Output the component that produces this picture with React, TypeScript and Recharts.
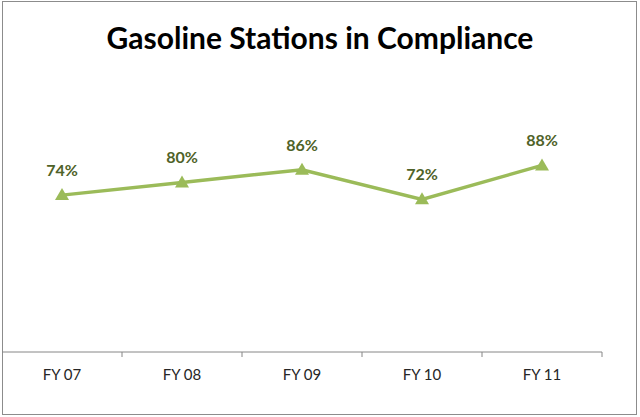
import React from "react"
import {
  LineChart,
  Line,
  XAxis,
  YAxis,
  LabelList,
} from "recharts"

// categories and compliance share (fraction)
const years = ["FY 07", "FY 08", "FY 09", "FY 10", "FY 11"]
const compliance = [0.74, 0.8, 0.86, 0.72, 0.88]

const data = years.map((year, i) => ({
  year,
  value: compliance[i],
}))

const GREEN = "#9bbb59"
const LABEL_GREEN = "#4f6228"
const BAND = 120

// triangle marker centred on the point
const Triangle = (props: any) => {
  const { cx, cy } = props
  if (cx == null || cy == null) return null
  return (
    <polygon
      points={`${cx - 7},${cy + 5} ${cx + 7},${cy + 5} ${cx},${cy - 7}`}
      fill={GREEN}
    />
  )
}

// label plus a tick mark on the right edge of each category band
const YearTick = (props: any) => {
  const { x, y, payload } = props
  const edge = x + BAND / 2
  return (
    <g>
      <line x1={edge} y1={y - 8} x2={edge} y2={y - 3} stroke="#868686" />
      <text
        x={x}
        y={y + 20}
        textAnchor="middle"
        fontFamily="Lato, 'Open Sans', sans-serif"
        fontSize={15}
        fill="#262626"
      >
        {payload.value}
      </text>
    </g>
  )
}

export default function App() {
  return (
    <div style={{ position: "relative", width: 640, height: 417, background: "#fff" }}>
      <style>{`body{margin:0}`}</style>

      <div
        style={{
          position: "absolute",
          left: 2,
          top: 1,
          width: 633,
          height: 412,
          border: "1px solid #8c8c8c",
          boxSizing: "content-box",
        }}
      />

      <div
        style={{
          position: "absolute",
          top: 19,
          left: 0,
          width: 640,
          textAlign: "center",
          fontFamily: "Lato, 'Open Sans', sans-serif",
          fontWeight: 700,
          fontSize: 30,
          lineHeight: "36px",
          color: "#000",
        }}
      >
        Gasoline Stations in Compliance
      </div>

      <div style={{ position: "absolute", left: 0, top: 0 }}>
        <LineChart
          width={640}
          height={417}
          data={data}
          margin={{ top: 140, right: 38, bottom: 35, left: 2 }}
        >
          <XAxis
            dataKey="year"
            scale="band"
            height={30}
            axisLine={{ stroke: "#868686" }}
            tickLine={false}
            tick={<YearTick />}
            interval={0}
          />
          <YAxis hide domain={[0, 1]} />
          <Line
            dataKey="value"
            stroke={GREEN}
            strokeWidth={3.5}
            dot={<Triangle />}
            activeDot={false}
            isAnimationActive={false}
          >
            <LabelList
              dataKey="value"
              position="top"
              offset={19}
              formatter={(v: any) => `${Math.round(v * 100)}%`}
              fill={LABEL_GREEN}
              fontFamily="Lato, 'Open Sans', sans-serif"
              fontWeight={700}
              fontSize={16}
            />
          </Line>
        </LineChart>
      </div>
    </div>
  )
}
